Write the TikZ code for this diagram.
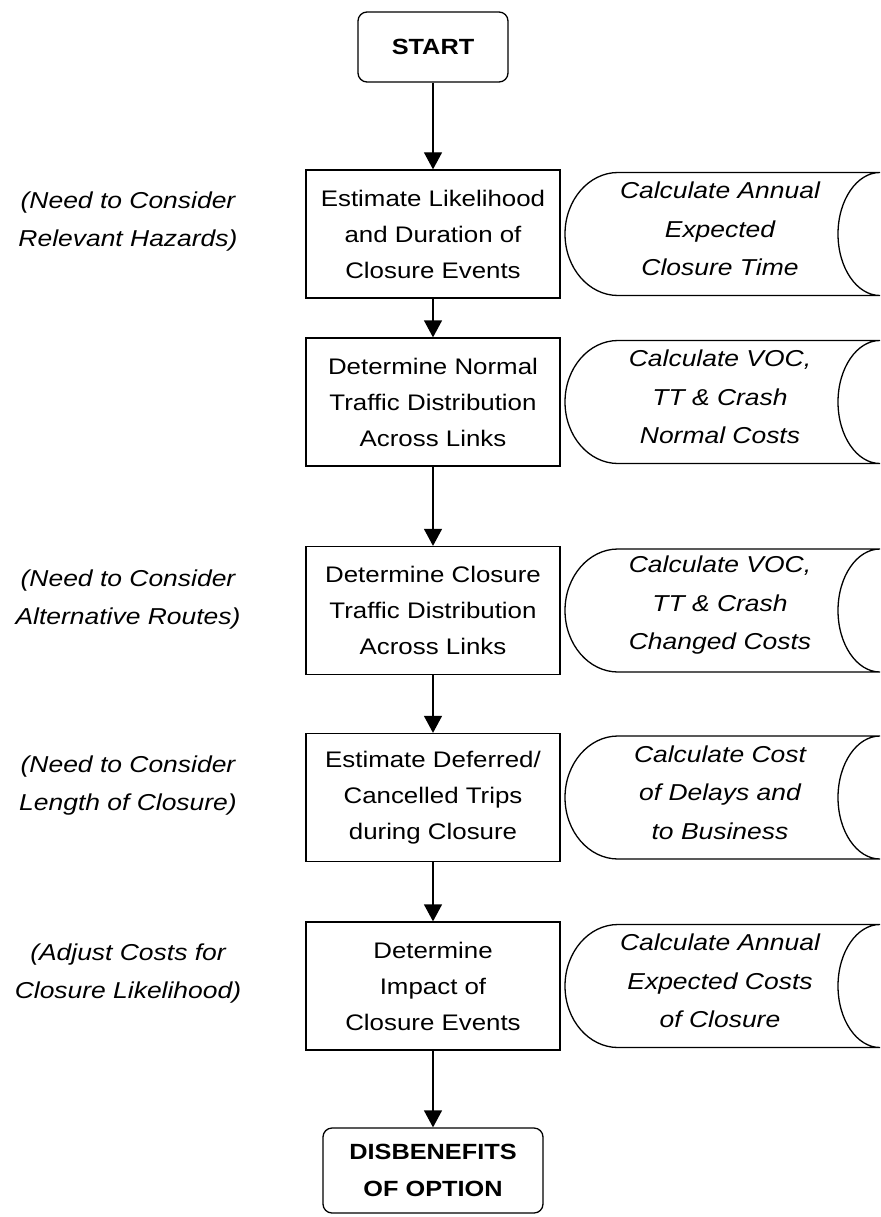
\documentclass[tikz,border=0pt]{standalone}
\usepackage{fontspec}
\setmainfont{Liberation Sans}[FakeStretch=1.15]
\usetikzlibrary{arrows.meta}

\tikzset{
  process/.style={draw, line width=1.3pt, minimum width=254pt, minimum height=128pt,
    align=center, font=\fontsize{22.5}{36}\selectfont},
  terminal/.style={draw, line width=1.3pt, rounded corners=9pt, align=center,
    font=\fontsize{22}{37}\selectfont\bfseries},
  calcnote/.style={align=center, font=\fontsize{23}{38.5}\selectfont\itshape},
  sidenote/.style={align=center, font=\fontsize{23}{38}\selectfont\itshape},
  flow/.style={-{Triangle[width=18pt,length=17pt]}, line width=1.3pt}
}

\begin{document}
\begin{tikzpicture}[x=1pt, y=-1pt]
\useasboundingbox (0,0) rectangle (880,1217);

% main column
\node[terminal, minimum width=150pt, minimum height=70pt] (start) at (433,47) {START};
\node[process] (est) at (433,234) {Estimate Likelihood\\and Duration of\\Closure Events};
\node[process] (norm) at (433,402) {Determine Normal\\Traffic Distribution\\Across Links};
\node[process] (clos) at (433,610.5) {Determine Closure\\Traffic Distribution\\Across Links};
\node[process] (defer) at (433,797.5) {Estimate Deferred/\\Cancelled Trips\\during Closure};
\node[process] (impact) at (433,986) {Determine\\Impact of\\Closure Events};
\node[terminal, minimum width=220pt, minimum height=85pt] (finish) at (433,1170.5) {DISBENEFITS\\OF OPTION};

\draw[flow] (start) -- (est);
\draw[flow] (est) -- (norm);
\draw[flow] (norm) -- (clos);
\draw[flow] (clos) -- (defer);
\draw[flow] (defer) -- (impact);
\draw[flow] (impact) -- (finish);

% calculation notes on the right
\foreach \y in {234,402,610.5,797.5,986}
  \draw[line width=1.3pt] (618,{\y-61.5}) -- (880,{\y-61.5})
    arc[start angle=90, end angle=270, x radius=42pt, y radius=61.5pt]
    -- (618,{\y+61.5})
    arc[start angle=270, end angle=90, x radius=53pt, y radius=61.5pt] -- cycle;

\node[calcnote] (calc1) at (720,229) {Calculate Annual\\Expected\\Closure Time};
\node[calcnote] (calc2) at (720,397) {Calculate VOC,\\TT \& Crash\\Normal Costs};
\node[calcnote] (calc3) at (720,605.5) {Calculate VOC,\\TT \& Crash\\Changed Costs};
\node[calcnote] (calc4) at (720,792.5) {Calculate Cost\\of Delays and\\to Business};
\node[calcnote] (calc5) at (720,981) {Calculate Annual\\Expected Costs\\of Closure};

% remarks on the left
\node[sidenote] (need1) at (128,222) {(Need to Consider\\Relevant Hazards)};
\node[sidenote] (need3) at (128,600) {(Need to Consider\\Alternative Routes)};
\node[sidenote] (need4) at (128,786) {(Need to Consider\\Length of Closure)};
\node[sidenote] (adjust5) at (128,974) {(Adjust Costs for\\Closure Likelihood)};
\end{tikzpicture}
\end{document}
